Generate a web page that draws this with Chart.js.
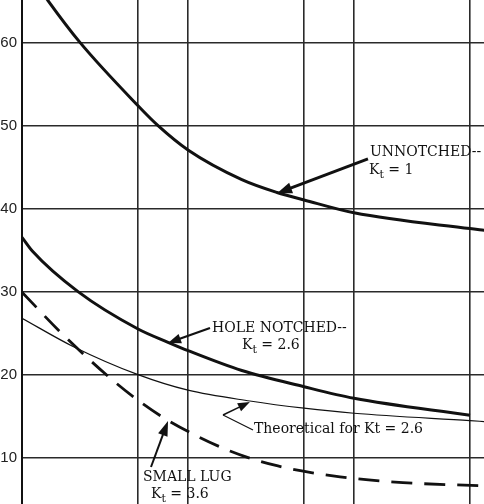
<!DOCTYPE html>
<html><head><meta charset="utf-8">
<script src="https://cdn.jsdelivr.net/npm/chart.js@4/dist/chart.umd.min.js"></script>
<style>html,body{margin:0;padding:0;background:#fff;} canvas{display:block;}</style>
</head><body>
<canvas id="c" width="484" height="504"></canvas>
<script>
// ---- data (x: cycles, log scale; y: stress) ----
const unnotchedCycles = [1120, 1430, 2240, 5000, 6600, 10000, 21100, 34400, 50000, 100000, 500000, 610000];
const unnotchedStress = [68.2, 65.1, 60.0, 52.4, 50.0, 47.07, 43.5, 41.95, 41.05, 39.5, 37.6, 37.4];
const holeCycles = [1000, 1165, 2175, 5000, 7580, 10000, 21100, 50000, 100000, 500000];
const holeStress = [36.55, 34.8, 30.0, 25.5, 23.9, 22.9, 20.5, 18.55, 17.16, 15.1];
const theoryCycles = [1000, 2030, 5000, 10000, 23600, 50000, 100000, 500000, 610000];
const theoryStress = [26.8, 23.4, 20.0, 18.13, 16.83, 15.96, 15.35, 14.46, 14.35];
const lugCycles = [1000, 1670, 3440, 5210, 7790, 17900, 34800, 82400, 197000, 610000];
const lugStress = [29.95, 25.3, 19.5, 16.65, 14.35, 10.8, 9.0, 7.7, 7.0, 6.6];
const yTickValues = [10, 20, 30, 40, 50, 60];
const xGridValues = [1000, 5000, 10000, 50000, 100000, 500000];
const xRange = [1000, 607000];
const yRange = [4.42, 65.14];

const pts = (xs, ys) => xs.map((x, i) => ({x, y: ys[i]}));

// annotation anchors in data coordinates
const notes = [
  {tail: [121400, 45.99], tip: [34400, 41.85], lw: 3, hl: 15, hw: 5.5,
   texts: [{t: 'UNNOTCHED--', dx: 2, dy: -3}, {t: 'K', sub: 't', rest: ' = 1', dx: 1, dy: 15}]},
  {tail: [13570, 25.63], tip: [7580, 23.82], lw: 2.2, hl: 13, hw: 5,
   texts: [{t: 'HOLE NOTCHED--', dx: 2, dy: 4}, {t: 'K', sub: 't', rest: ' = 2.6', dx: 32, dy: 21}]},
  {tail: [5985, 8.88], tip: [7580, 14.42], lw: 2, hl: 15, hw: 5,
   texts: [{t: 'SMALL LUG', dx: -8, dy: 14}, {t: 'K', sub: 't', rest: ' = 3.6', dx: 0, dy: 31}]}
];
const theoNote = {tip: [23600, 16.71], elbow: [16250, 15.14], textAt: [24640, 13.34], text: 'Theoretical for Kt = 2.6'};

const FONT = '"DejaVu Serif", serif';

function arrow(ctx, x1, y1, x2, y2, lw, hl, hw) {
  const a = Math.atan2(y2 - y1, x2 - x1);
  const bx = x2 - hl * Math.cos(a), by = y2 - hl * Math.sin(a);
  ctx.lineWidth = lw;
  ctx.beginPath(); ctx.moveTo(x1, y1); ctx.lineTo(bx + 2 * Math.cos(a), by + 2 * Math.sin(a)); ctx.stroke();
  ctx.beginPath(); ctx.moveTo(x2, y2);
  ctx.lineTo(bx + hw * Math.sin(a), by - hw * Math.cos(a));
  ctx.lineTo(bx - hw * Math.sin(a), by + hw * Math.cos(a));
  ctx.closePath(); ctx.fill();
}

function drawText(ctx, item, x, y) {
  ctx.font = '14px ' + FONT;
  ctx.fillText(item.t, x, y);
  if (item.sub) {
    let w = ctx.measureText(item.t).width;
    ctx.font = '11px ' + FONT;
    ctx.fillText(item.sub, x + w, y + 4);
    w += ctx.measureText(item.sub).width;
    ctx.font = '14px ' + FONT;
    ctx.fillText(item.rest, x + w, y);
  }
}

const annotPlugin = {
  id: 'annot',
  afterDatasetsDraw(chart) {
    const ctx = chart.ctx, xs = chart.scales.x, ys = chart.scales.y;
    const P = p => [xs.getPixelForValue(p[0]), ys.getPixelForValue(p[1])];
    ctx.save();
    ctx.fillStyle = '#111'; ctx.strokeStyle = '#111';
    ctx.textBaseline = 'alphabetic'; ctx.textAlign = 'left';
    notes.forEach(n => {
      const [tx, ty] = P(n.tail), [hx, hy] = P(n.tip);
      arrow(ctx, tx, ty, hx, hy, n.lw, n.hl, n.hw);
      n.texts.forEach(t => drawText(ctx, t, tx + t.dx, ty + t.dy));
    });
    const [px, py] = P(theoNote.tip), [ex, ey] = P(theoNote.elbow), [sx, sy] = P(theoNote.textAt);
    ctx.lineWidth = 1.2;
    ctx.beginPath(); ctx.moveTo(sx, sy); ctx.lineTo(ex, ey); ctx.stroke();
    arrow(ctx, ex, ey, px, py, 1.5, 12, 4.5);
    drawText(ctx, {t: theoNote.text}, sx + 1, sy + 3);
    ctx.restore();
  }
};

new Chart(document.getElementById('c'), {
  type: 'line',
  data: {
    datasets: [
      {data: pts(unnotchedCycles, unnotchedStress), borderColor: '#111', borderWidth: 3},
      {data: pts(holeCycles, holeStress), borderColor: '#111', borderWidth: 3},
      {data: pts(theoryCycles, theoryStress), borderColor: '#111', borderWidth: 1.2},
      {data: pts(lugCycles, lugStress), borderColor: '#111', borderWidth: 2.8, borderDash: [21, 12]}
    ]
  },
  options: {
    responsive: false,
    animation: false,
    layout: {padding: 0},
    elements: {point: {radius: 0}, line: {cubicInterpolationMode: 'monotone', borderCapStyle: 'butt'}},
    plugins: {legend: {display: false}, tooltip: {enabled: false}},
    scales: {
      x: {
        type: 'logarithmic', min: xRange[0], max: xRange[1],
        afterBuildTicks: s => { s.ticks = xGridValues.map(v => ({value: v})); },
        ticks: {display: false},
        grid: {color: '#2a2a2a', lineWidth: 1.6, drawTicks: false},
        border: {display: false}
      },
      y: {
        type: 'linear', min: yRange[0], max: yRange[1],
        afterBuildTicks: s => { s.ticks = yTickValues.map(v => ({value: v})); },
        afterFit: s => { s.width = 22; s.paddingTop = 0; s.paddingBottom = 0; },
        ticks: {padding: 5, color: '#222', font: {family: '"Liberation Sans", sans-serif', size: 15}},
        grid: {color: '#2a2a2a', lineWidth: 1.6, drawTicks: false},
        border: {display: true, color: '#111', width: 2}
      }
    }
  },
  plugins: [annotPlugin]
});
</script>
</body></html>
